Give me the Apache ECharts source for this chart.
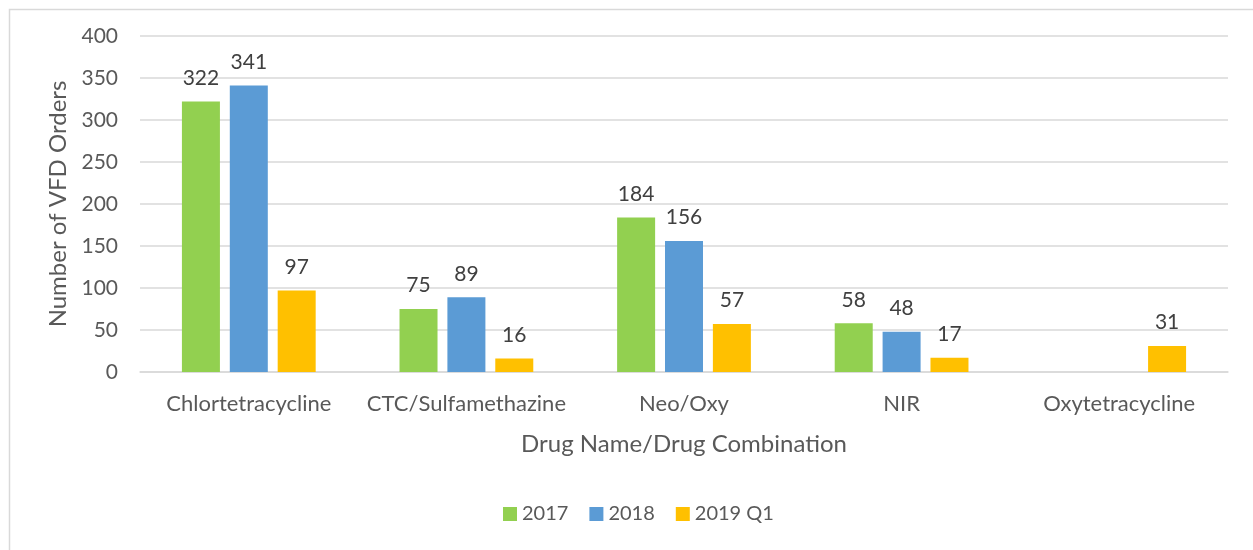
<!DOCTYPE html>
<html>
<head>
<meta charset="utf-8">
<script src="https://cdn.jsdelivr.net/npm/echarts@6/dist/echarts.min.js"></script>
<style>
html,body{margin:0;padding:0;background:#fff;}
#main{width:1253px;height:550px;}
</style>
</head>
<body>
<div id="main"></div>
<script>
var categories = ['Chlortetracycline', 'CTC/Sulfamethazine', 'Neo/Oxy', 'NIR', 'Oxytetracycline'];
var seriesNames = ['2017', '2018', '2019 Q1'];
var values2017 = [322, 75, 184, 58, null];
var values2018 = [341, 89, 156, 48, null];
var values2019Q1 = [97, 16, 57, 17, 31];
var yTicks = [0, 50, 100, 150, 200, 250, 300, 350, 400];

var colors = ['#92d050', '#5b9bd5', '#ffc000'];
var font = 'Lato, "Open Sans", sans-serif';

var myChart = echarts.init(document.getElementById('main'));

function barSeries(name, data, color) {
    return {
        name: name,
        type: 'bar',
        data: data,
        barWidth: 38,
        barGap: '26%',
        itemStyle: {color: color},
        label: {
            show: true,
            position: 'top',
            distance: 13,
            fontSize: 21,
            fontFamily: font,
            color: '#404040'
        }
    };
}

option = {
    animation: false,
    color: colors,
    textStyle: {fontFamily: font},
    graphic: [{
        type: 'rect',
        left: 7, top: 7,
        shape: {width: 1300, height: 600},
        style: {fill: 'none', stroke: '#d9d9d9', lineWidth: 1.5},
        silent: true
    }],
    grid: {left: 140, right: 25, top: 36, bottom: 178},
    legend: {
        data: seriesNames,
        bottom: 21,
        left: 498,
        itemWidth: 14,
        itemHeight: 14,
        itemGap: 21,
        icon: 'rect',
        textStyle: {fontSize: 20, color: '#595959', fontFamily: font}
    },
    xAxis: {
        type: 'category',
        data: categories,
        name: 'Drug Name/Drug Combination',
        nameLocation: 'middle',
        nameGap: 60,
        nameTextStyle: {fontSize: 24, color: '#595959', fontFamily: font},
        axisLine: {lineStyle: {color: '#d9d9d9', width: 1.5}},
        axisTick: {show: false},
        axisLabel: {interval: 0, fontSize: 22, color: '#595959', margin: 21, fontFamily: font}
    },
    yAxis: {
        type: 'value',
        min: yTicks[0],
        max: yTicks[yTicks.length - 1],
        interval: 50,
        name: 'Number of VFD Orders',
        nameLocation: 'middle',
        nameGap: 70,
        nameTextStyle: {fontSize: 24, color: '#595959', fontFamily: font},
        axisLine: {show: false},
        axisTick: {show: false},
        axisLabel: {fontSize: 21, color: '#595959', margin: 22, fontFamily: font},
        splitLine: {lineStyle: {color: '#d9d9d9', width: 1.5}}
    },
    series: [
        barSeries(seriesNames[0], values2017, colors[0]),
        barSeries(seriesNames[1], values2018, colors[1]),
        barSeries(seriesNames[2], values2019Q1, colors[2])
    ]
};

myChart.setOption(option);
</script>
</body>
</html>
